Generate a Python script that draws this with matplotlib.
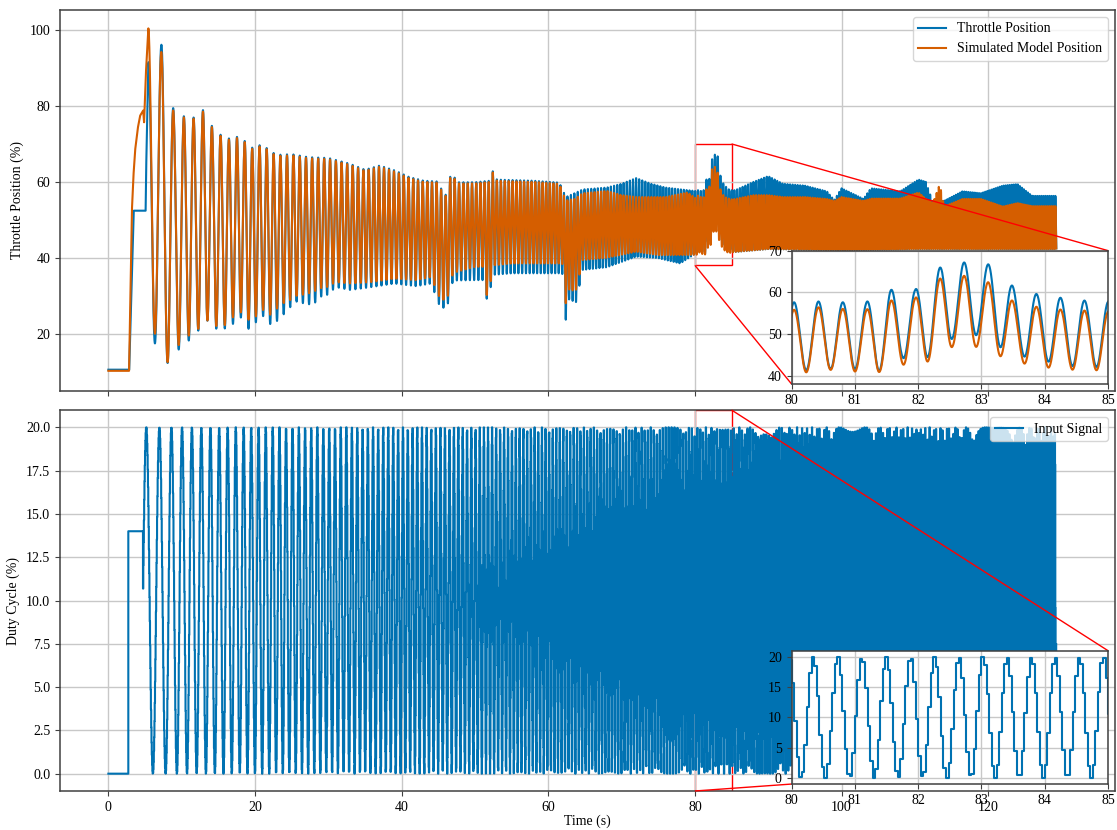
"""Throttle chirp test: measured vs simulated position, and the duty-cycle input.

Two stacked panels sharing the time axis, each with a zoomed inset on 80-85 s.
"""

import numpy as np
import matplotlib
matplotlib.use("Agg")
import matplotlib.pyplot as plt
from matplotlib.ticker import FormatStrFormatter
from mpl_toolkits.axes_grid1.inset_locator import inset_axes, mark_inset

plt.rcParams["font.family"] = ["Liberation Serif", "DejaVu Serif"]
plt.rcParams["font.size"] = 10

BLUE = "#0072B2"
ORANGE = "#D55E00"

# Chirp frequency of the duty-cycle command (Hz), read from peak spacing.
FREQ_T = [4.7, 7.0, 10.0, 15.0, 20.0, 25.0, 30.0, 35.0, 40.0, 47.0, 60.0, 80.0, 85.0, 100.0, 130.0]
FREQ_HZ = [0.55, 0.57, 0.73, 0.85, 1.0, 1.15, 1.25, 1.4, 1.52, 1.65, 2.05, 2.6, 2.65, 3.1, 3.8]

# Output lag behind the command (s).
LAG_T = [4.7, 10.0, 20.0, 40.0, 80.0, 130.0]
LAG_S = [0.3, 0.27, 0.15, 0.12, 0.1, 0.08]

# Command: off, step to 14 %, then the 0-20 % sine, sampled at 25 Hz.
CMD_STEP_T = [2.72, 4.7]
CMD_STEP = [14.0, 10.0]
CMD_AMPLITUDE = 10.0
CMD_SAMPLE_S = 0.04
END_T = 129.3

# Start-up transient before the first oscillation peak.
MODEL_START_T = [0.0, 2.82, 3.0, 3.19, 3.4, 3.64, 4.0, 4.32, 4.75, 4.87, 5.1]
MODEL_START = [10.2, 10.2, 30.0, 51.6, 61.0, 68.2, 74.0, 77.4, 78.8, 75.7, 88.0]
THROTTLE_START_T = [0.0, 2.84, 3.45, 5.08, 5.14]
THROTTLE_START = [10.5, 10.5, 52.4, 52.4, 62.0]

# Peak envelope of each cycle (%).
PEAK_T = [5.44, 7.37, 9.05, 10.4, 11.8, 13.06, 14.3, 15.5, 16.65, 17.8, 18.7,
          19.8, 20.85, 21.9, 22.9, 25.0, 27.3, 30.0, 32.9, 35.0, 37.0, 39.1,
          41.0, 43.0, 45.0, 45.5, 46.1, 46.8, 47.5, 50.0, 52.0, 52.4, 53.0,
          58.0, 61.5, 62.4, 63.6, 64.7, 68.0, 70.0, 72.0, 74.0, 76.0, 79.0,
          80.04, 80.43, 80.82, 81.17, 81.55, 81.95, 82.38, 82.79, 83.17,
          83.55, 83.93, 84.29, 84.64, 84.98,
          85.5, 88.0, 90.0, 92.0, 95.0, 98.0, 99.0, 100.0, 103.0, 104.0,
          108.0, 110.5, 111.5, 112.5, 113.4, 114.0, 116.5, 119.0, 122.0,
          124.0, 126.0, 129.3]
MODEL_PEAK = [100.5, 93.7, 76.8, 77.0, 76.6, 78.8, 73.7, 71.8, 71.0, 71.7, 70.3,
              68.4, 69.6, 68.2, 66.8, 67.0, 66.2, 66.0, 64.5, 62.9, 64.0, 62.7,
              61.0, 60.0, 59.8, 57.4, 56.1, 62.7, 59.6, 59.6, 60.0, 62.6, 60.3,
              60.0, 59.5, 55.1, 55.5, 57.0, 57.6, 56.5, 56.0, 56.0, 56.0, 57.2,
              55.8, 56.4, 56.0, 55.8, 58.0, 58.6, 63.7, 64.0, 62.1,
              57.2, 56.4, 55.8, 55.6, 55.4,
              55.5, 56.5, 56.5, 56.0, 56.0, 55.5, 55.0, 56.0, 55.0, 55.6,
              55.6, 57.2, 55.5, 54.5, 59.4, 53.5, 55.5, 55.5, 53.5,
              54.4, 53.6, 53.6]
THROTTLE_PEAK = [91.5, 96.5, 77.1, 77.3, 76.9, 79.2, 74.0, 72.1, 71.3, 72.0, 70.6,
                 68.7, 69.9, 68.5, 67.1, 67.3, 66.5, 66.3, 64.8, 63.2, 64.3, 63.0,
                 61.3, 60.3, 60.1, 57.7, 56.4, 63.0, 59.9, 59.9, 60.3, 62.9, 60.6,
                 60.3, 59.8, 56.0, 57.0, 58.0, 58.5, 59.5, 61.0, 59.5, 58.5, 57.8,
                 57.6, 57.8, 57.6, 57.6, 60.6, 60.6, 66.4, 67.3, 66.6,
                 60.6, 59.4, 58.6, 58.0, 57.8,
                 57.8, 60.0, 61.5, 59.5, 59.0, 57.5, 55.2, 58.3, 55.5, 58.3,
                 57.5, 60.6, 60.0, 54.3, 55.0, 55.0, 57.5, 57.0, 59.0,
                 59.4, 56.3, 56.3]

# Trough envelope (%).
TROUGH_T = [6.32, 8.23, 9.73, 11.1, 12.37, 13.6, 14.87, 16.0, 17.1, 18.24, 19.3,
            20.33, 21.33, 22.3, 23.3, 24.3, 25.2, 26.0, 26.9, 27.7, 28.5, 29.3,
            30.1, 30.9, 33.0, 36.0, 39.0, 42.0, 44.0, 45.3, 46.2, 47.0, 50.0,
            51.2, 51.7, 52.5, 55.0, 60.0, 61.9, 62.4, 63.0, 63.6, 64.7, 68.0,
            72.0, 75.0, 78.0,
            80.23, 80.61, 81.0, 81.37, 81.75, 82.13, 82.55, 82.96, 83.37,
            83.75, 84.12, 84.47, 84.82,
            85.3, 90.0, 100.0, 110.0, 120.0, 129.3]
MODEL_TROUGH = [20.1, 11.8, 17.5, 19.7, 21.4, 23.6, 21.8, 22.3, 24.5, 25.8, 23.2,
                24.9, 26.6, 24.5, 27.5, 28.4, 29.2, 30.5, 30.1, 31.0, 31.4, 32.3,
                32.3, 33.6, 33.2, 33.6, 34.5, 34.1, 34.9, 28.9, 29.0, 36.0, 37.6,
                37.6, 28.4, 38.0, 38.5, 38.5, 38.5, 27.6, 33.0, 30.0, 39.4, 40.0,
                41.6, 40.7, 40.7,
                40.8, 41.4, 41.0, 40.8, 42.6, 43.2, 47.0, 46.9, 44.2,
                42.6, 41.8, 41.4, 41.3,
                41.5, 42.3, 42.0, 42.3, 42.3, 42.3]
THROTTLE_TROUGH = [17.5, 11.8, 16.2, 18.4, 21.0, 23.6, 21.0, 21.4, 22.7, 24.5, 20.6,
                   23.6, 24.9, 21.8, 24.0, 25.8, 27.9, 28.8, 27.5, 27.9, 28.4, 30.5,
                   30.1, 32.3, 31.5, 32.3, 33.2, 32.5, 33.2, 26.7, 27.0, 34.0, 34.1,
                   34.1, 28.0, 35.5, 35.9, 35.9, 35.9, 23.2, 31.0, 26.6, 36.8, 37.5,
                   40.3, 39.9, 38.5,
                   41.3, 41.6, 41.6, 41.0, 44.2, 44.2, 49.0, 49.8, 46.2,
                   44.2, 43.2, 42.2, 42.1,
                   41.5, 42.3, 42.0, 42.3, 42.3, 42.3]

ZOOM_X = (80, 85)
ZOOM_TOP_Y = (38, 70)


def chirp_cycles(t):
    """Cumulative cycles of the command, pinned so a peak falls at 79.94 s."""
    f = np.interp(t, FREQ_T, FREQ_HZ)
    cyc = np.concatenate([[0.0], np.cumsum(0.5 * (f[1:] + f[:-1]) * np.diff(t))])
    cyc -= np.interp(CMD_STEP_T[1], t, cyc)
    ref = np.interp(79.94, t, cyc)
    return cyc * (np.round(ref - 0.25) + 0.25) / ref


def build_command(t, cyc):
    ts = np.arange(0, END_T, CMD_SAMPLE_S)
    c = np.interp(ts, t, cyc)
    u = CMD_STEP[1] + CMD_AMPLITUDE * np.sin(2 * np.pi * c)
    u = np.where(ts < CMD_STEP_T[1], CMD_STEP[0], u)
    u = np.where(ts < CMD_STEP_T[0], 0.0, u)
    return ts, u


def build_response(t, cyc, start_t, start_v, peaks, troughs):
    lag = np.interp(t, LAG_T, LAG_S)
    c_out = np.interp(t - lag, t, cyc)
    w = 0.5 * (1 + np.cos(2 * np.pi * (c_out - 0.25)))
    top = np.interp(t, PEAK_T, peaks)
    bot = np.interp(t, TROUGH_T, troughs)
    y = bot + (top - bot) * w
    i0 = int(np.argmax(c_out >= 0.25))
    y[:i0] = np.interp(t[:i0], start_t + [t[i0]], start_v + [top[i0]])
    return y


def style_axes(ax):
    ax.grid(True, color="#c8c8c8", linewidth=1.0)
    for s in ax.spines.values():
        s.set_color("0.25")
        s.set_linewidth(1.1)
    ax.tick_params(colors="0.25", labelcolor="black")


def main():
    t = np.arange(0, END_T, 0.005)
    cyc = chirp_cycles(t)
    ts, u = build_command(t, cyc)
    throttle = build_response(t, cyc, THROTTLE_START_T, THROTTLE_START,
                              THROTTLE_PEAK, THROTTLE_TROUGH)
    model = build_response(t, cyc, MODEL_START_T, MODEL_START,
                           MODEL_PEAK, MODEL_TROUGH)

    fig = plt.figure(figsize=(11.17, 8.3), dpi=100)
    ax1 = fig.add_axes([0.0537, 0.529, 0.9445, 0.459])
    ax2 = fig.add_axes([0.0537, 0.047, 0.9445, 0.459], sharex=ax1)

    # top: position
    ax1.plot(t, throttle, color=BLUE, lw=1.5, label="Throttle Position")
    ax1.plot(t, model, color=ORANGE, lw=1.5, label="Simulated Model Position")
    ax1.set_xlim(-6.6, 137.3)
    ax1.set_ylim(4.9, 105.3)
    ax1.set_ylabel("Throttle Position (%)")
    ax1.tick_params(labelbottom=False)
    style_axes(ax1)
    ax1.legend(loc="upper right")

    ins1 = inset_axes(ax1, width="30%", height="35%", loc="lower right")
    ins1.plot(t, throttle, color=BLUE, lw=1.5)
    ins1.plot(t, model, color=ORANGE, lw=1.5)
    ins1.set_xlim(*ZOOM_X)
    ins1.set_ylim(*ZOOM_TOP_Y)
    ins1.set_yticks([40, 50, 60, 70])
    style_axes(ins1)
    mark_inset(ax1, ins1, loc1=1, loc2=3, fc="none", ec="red", lw=1.0)

    # bottom: command
    ax2.plot(ts, u, color=BLUE, lw=1.5, drawstyle="steps-post", label="Input Signal")
    ax2.set_ylim(-1.0, 21.0)
    ax2.set_yticks(np.arange(0, 20.1, 2.5))
    ax2.yaxis.set_major_formatter(FormatStrFormatter("%.1f"))
    ax2.set_ylabel("Duty Cycle (%)")
    ax2.set_xlabel("Time (s)", labelpad=0.5)
    style_axes(ax2)
    ax2.legend(loc="upper right")

    ins2 = inset_axes(ax2, width="30%", height="35%", loc="lower right")
    ins2.plot(ts, u, color=BLUE, lw=1.5, drawstyle="steps-post")
    ins2.set_xlim(*ZOOM_X)
    ins2.set_ylim(-1.0, 21.0)
    ins2.set_yticks([0, 5, 10, 15, 20])
    style_axes(ins2)
    mark_inset(ax2, ins2, loc1=1, loc2=3, fc="none", ec="red", lw=1.0)

    fig.savefig("out.png", dpi=100, facecolor="white")
    plt.close(fig)


if __name__ == "__main__":
    main()
